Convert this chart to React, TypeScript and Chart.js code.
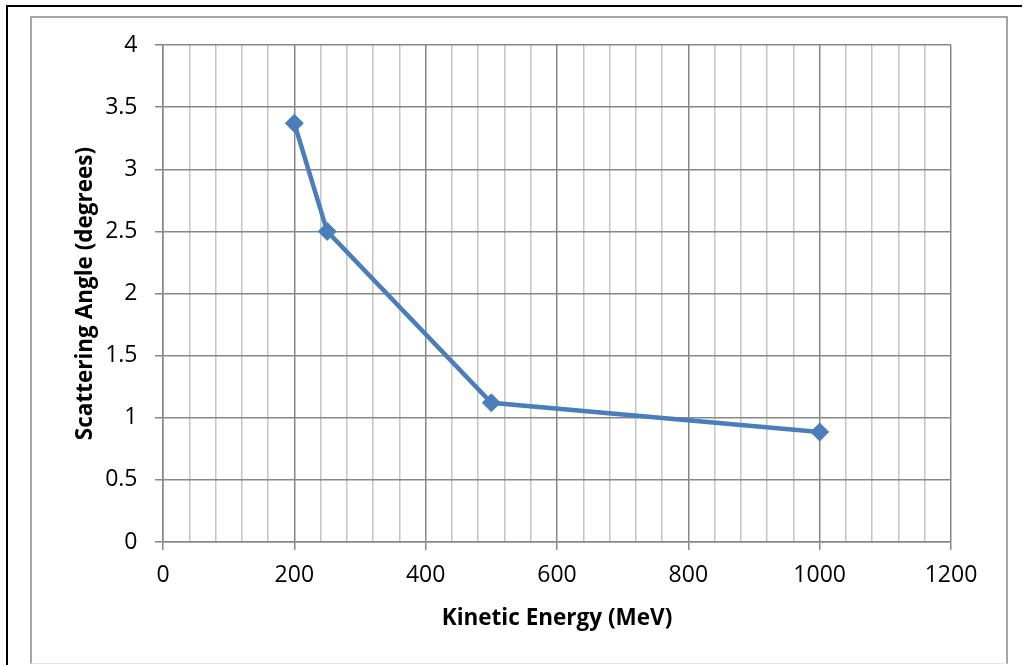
import React, { useEffect, useRef } from 'react';
import { Chart, registerables } from 'chart.js';

Chart.register(...registerables);

const energies = [200, 250, 500, 1000];
const angles = [3.37, 2.5, 1.12, 0.885];
const xMajorStep = 200;
const xMinorStep = 40;
const yStep = 0.5;
const xTitle = 'Kinetic Energy (MeV)';
const yTitle = 'Scattering Angle (degrees)';

const MAJOR = '#878787';
const MINOR = '#c4c4c4';
const LINE = '#4a7ebb';

export default function App() {
  const ref = useRef<HTMLCanvasElement | null>(null);

  useEffect(() => {
    if (!ref.current) return;
    const chart = new Chart(ref.current, {
      type: 'line',
      data: {
        datasets: [
          {
            data: energies.map((x, i) => ({ x, y: angles[i] })),
            borderColor: LINE,
            backgroundColor: LINE,
            borderWidth: 4.5,
            pointStyle: 'rectRot',
            pointRadius: 9,
            pointBorderWidth: 1,
            pointBackgroundColor: LINE,
            pointBorderColor: LINE,
            tension: 0,
          },
        ],
      },
      options: {
        responsive: false,
        animation: false,
        layout: { padding: { left: 0, top: 45, right: 72, bottom: 0 } },
        plugins: { legend: { display: false }, tooltip: { enabled: false } },
        scales: {
          x: {
            type: 'linear',
            min: 0,
            max: 1200,
            afterFit: (s: any) => {
              s.height = 123;
            },
            ticks: {
              stepSize: xMinorStep,
              autoSkip: false,
              maxTicksLimit: 100,
              maxRotation: 0,
              minRotation: 0,
              padding: 12,
              color: '#000',
              font: { family: 'Open Sans', size: 23 },
              callback: (v: any) => (Number(v) % xMajorStep === 0 ? String(v) : ''),
            },
            grid: {
              color: (ctx: any) => (ctx.tick && ctx.tick.value % xMajorStep === 0 ? MAJOR : MINOR),
              tickColor: (ctx: any) =>
                ctx.tick && ctx.tick.value % xMajorStep === 0 ? MAJOR : 'rgba(0,0,0,0)',
              lineWidth: 1.5,
              tickLength: 8,
            },
            border: { display: true, color: MAJOR, width: 1.5 },
            title: {
              display: true,
              text: xTitle,
              color: '#000',
              font: { family: 'Open Sans', size: 22.5, weight: 'bold' },
              padding: { top: 0, bottom: 33 },
            },
          },
          y: {
            type: 'linear',
            min: 0,
            max: 4,
            afterFit: (s: any) => {
              s.width = 163;
            },
            ticks: {
              stepSize: yStep,
              padding: 17.5,
              color: '#000',
              font: { family: 'Open Sans', size: 23 },
              callback: (v: any) => String(Number(v)),
            },
            grid: {
              color: MAJOR,
              tickColor: MAJOR,
              lineWidth: 1.5,
              tickLength: 8,
            },
            border: { display: true, color: MAJOR, width: 1.5 },
            title: {
              display: true,
              text: yTitle,
              color: '#000',
              font: { family: 'Open Sans', size: 22.5, weight: 'bold' },
              padding: { top: 72.5, bottom: 0 },
            },
          },
        },
      },
    });
    return () => chart.destroy();
  }, []);

  return (
    <div style={{ position: 'fixed', left: 0, top: 0, width: 1023, height: 665, background: '#fff', overflow: 'hidden' }}>
      <div
        style={{
          position: 'absolute',
          left: 6,
          top: 5,
          width: 1016,
          height: 700,
          borderTop: '2px solid #000',
          borderLeft: '2px solid #000',
          boxSizing: 'border-box',
        }}
      />
      <div
        style={{
          position: 'absolute',
          left: 30,
          top: 16,
          width: 978,
          height: 648,
          border: '2px solid #a6a6a6',
          borderBottom: '1px solid #e8e8e8',
          boxSizing: 'border-box',
        }}
      />
      <canvas ref={ref} width={1023} height={665} style={{ position: 'absolute', left: 0, top: 0 }} />
    </div>
  );
}
